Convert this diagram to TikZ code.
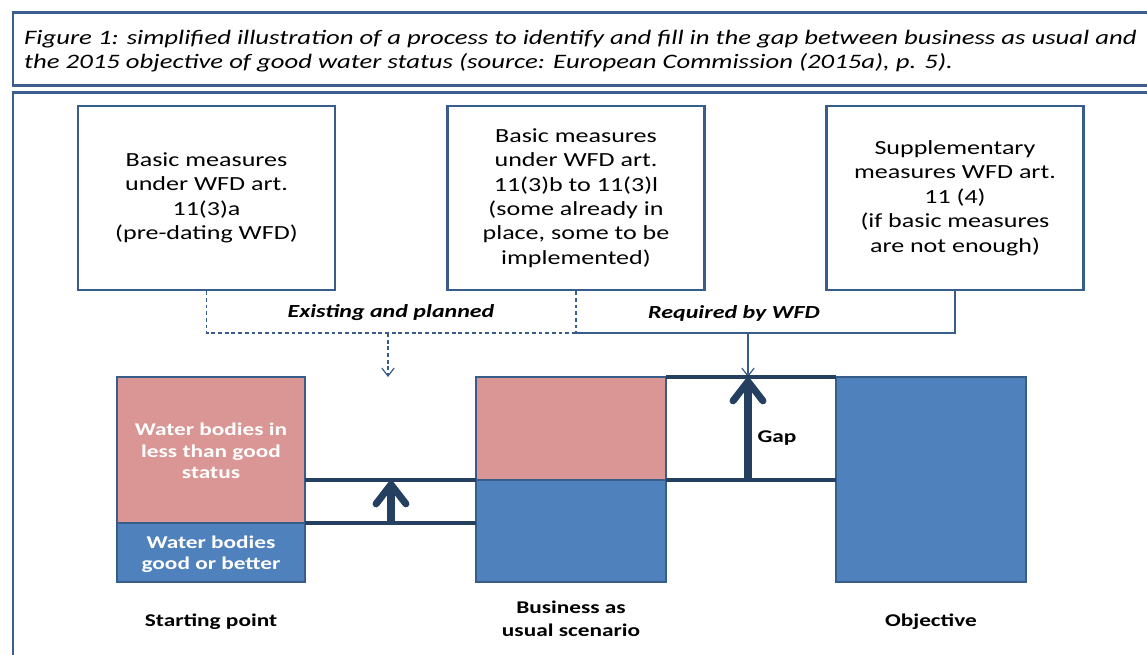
\documentclass[tikz,border=0pt]{standalone}
\usepackage{fontspec}
\setmainfont{Carlito}[FakeStretch=1.3]
\usetikzlibrary{arrows.meta}

\definecolor{frameblue}{HTML}{3A5F8E}
\definecolor{edgeblue}{HTML}{385D8A}
\definecolor{navy}{HTML}{243F60}
\definecolor{rose}{HTML}{D99694}
\definecolor{steel}{HTML}{4F81BD}

\tikzset{
  measure/.style={draw=edgeblue, line width=1.4pt, minimum width=5.14cm,
    minimum height=3.68cm, align=center, inner sep=0pt,
    font=\fontsize{11.4}{13.9}\selectfont},
  barlabel/.style={text=white, align=center, font=\bfseries\fontsize{10.2}{12.2}\selectfont},
  collabel/.style={align=center, font=\bfseries\fontsize{10.2}{13.1}\selectfont},
  linklabel/.style={font=\bfseries\itshape\fontsize{10.5}{12}\selectfont},
  level/.style={navy, line width=2.8pt},
  rise/.style={navy, line width=4pt,
    -{Straight Barb[length=11pt,width=17pt,round]}},
  link/.style={edgeblue, line width=0.7pt},
  fine dash/.style={dash pattern=on 2.2pt off 1.6pt},
  pointer/.style={link, -{Straight Barb[length=4.5pt,width=7pt]}}
}

\begin{document}
\begin{tikzpicture}[x=0.02cm, y=-0.02cm]
  \useasboundingbox (0,0) rectangle (1147,654);
  \clip (0,0) rectangle (1147,654);

  % caption frame and picture frame
  \draw[frameblue, line width=1.7pt] (13,12) rectangle (1170,85);
  \draw[frameblue, line width=1.7pt] (13,92) rectangle (1170,700);
  \node[anchor=west, align=left, font=\itshape\fontsize{11.7}{13.7}\selectfont]
    (caption) at (18,51.5)
    {Figure 1: simplified illustration of a process to identify and fill in the gap between business as usual and\\
     the 2015 objective of good water status (source: European Commission (2015a), p. 5).};

  % the three groups of measures
  \node[measure] (basicA) at (206.5,198)
    {Basic measures\\under WFD art.\\11(3)a\\(pre-dating WFD)};
  \node[measure] (basicB) at (576,198)
    {Basic measures\\under WFD art.\\11(3)b to 11(3)l\\(some already in\\place, some to be\\implemented)};
  \node[measure] (suppl) at (955,198)
    {Supplementary\\measures WFD art.\\11 (4)\\(if basic measures\\are not enough)};

  % links from the measures
  \coordinate (split) at (576,333);
  \coordinate (existing) at (388,333);
  \coordinate (required) at (748,333);
  \coordinate (existingEnd) at (388,377);
  \coordinate (requiredEnd) at (748,377);
  \draw[link, fine dash] (basicA.south) |- (split);
  \draw[link, fine dash] (basicB.south) -- (split);
  \draw[link] (split) -| (suppl.south);
  \draw[pointer, fine dash] (existing) -- (existingEnd);
  \draw[pointer] (required) -- (requiredEnd);
  \node[linklabel] (existLbl) at (391,313) {Existing and planned};
  \node[linklabel] (reqLbl) at (734,313) {Required by WFD};

  % starting point column
  \fill[rose] (117,377) rectangle (305,523);
  \fill[steel] (117,523) rectangle (305,582);
  \draw[edgeblue, line width=1.4pt] (117,377) rectangle (305,582);
  \draw[edgeblue, line width=1.4pt] (117,523) -- (305,523);
  \node[barlabel] (badStart) at (211,451) {Water bodies in\\less than good\\status};
  \node[barlabel] (goodStart) at (211,554.5) {Water bodies\\good or better};

  % business as usual column
  \fill[rose] (476,377) rectangle (666,480);
  \fill[steel] (476,480) rectangle (666,582);
  \draw[edgeblue, line width=1.4pt] (476,377) rectangle (666,582);
  \draw[edgeblue, line width=1.4pt] (476,480) -- (666,480);

  % objective column
  \fill[steel] (836,377) rectangle (1026,582);
  \draw[edgeblue, line width=1.4pt] (836,377) rectangle (1026,582);

  % levels and improvements
  \draw[level] (305,523) -- (476,523);
  \draw[level] (305,480) -- (476,480);
  \draw[level] (666,480) -- (836,480);
  \draw[level] (666,377) -- (836,377);
  \draw[rise] (391,523) -- (391,481);
  \draw[rise] (748,480) -- (748,378);
  \node[font=\bfseries\fontsize{10.2}{12}\selectfont] (gap) at (777,438) {Gap};

  % column captions
  \node[collabel] (start) at (211,621.5) {Starting point};
  \node[collabel] (bau) at (571,619) {Business as\\usual scenario};
  \node[collabel] (objective) at (931,621.5) {Objective};
\end{tikzpicture}
\end{document}
